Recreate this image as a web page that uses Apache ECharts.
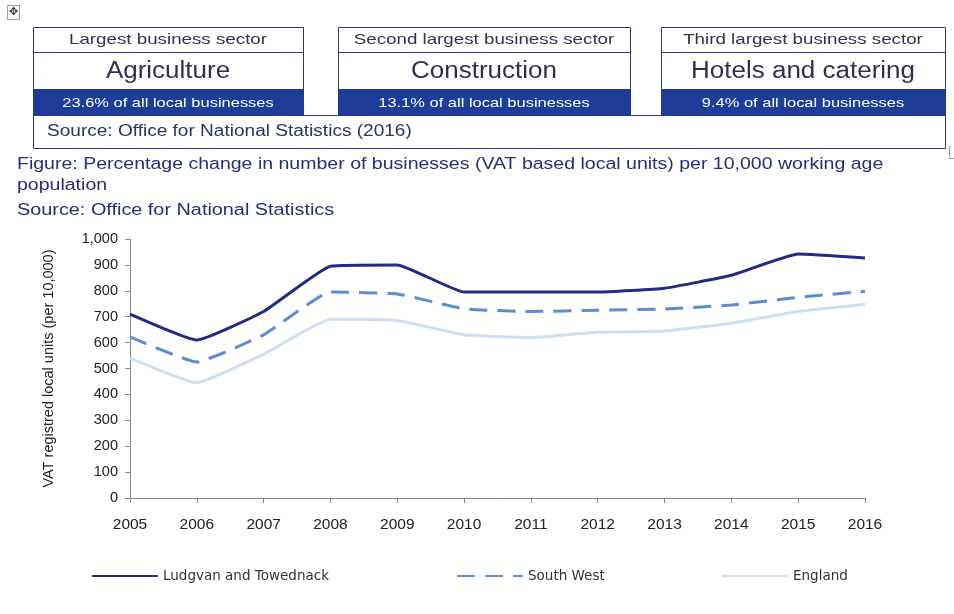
<!DOCTYPE html>
<html>
<head>
<meta charset="utf-8">
<script src="https://cdn.jsdelivr.net/npm/echarts@6/dist/echarts.min.js"></script>
<style>
  html, body { margin: 0; padding: 0; background: #fff; }
  #chart { width: 954px; height: 614px; }
</style>
</head>
<body>
<div id="chart"></div>
<script>
// Years on the category axis
const years = ['2005','2006','2007','2008','2009','2010','2011','2012','2013','2014','2015','2016'];

// VAT registered local units per 10,000 working age population
const ludgvan   = [710, 610, 720, 895, 900, 795, 795, 795, 810, 860, 942, 927];
const southWest = [622, 525, 630, 795, 788, 730, 720, 725, 730, 745, 775, 798];
const england   = [540, 445, 555, 690, 685, 630, 620, 640, 645, 675, 720, 748];

const seriesNames = ['Ludgvan and Towednack', 'South West', 'England'];

// Summary panels above the chart
const sectorTitles = ['Largest business sector', 'Second largest business sector', 'Third largest business sector'];
const sectorNames  = ['Agriculture', 'Construction', 'Hotels and catering'];
const sectorShares = ['23.6% of all local businesses', '13.1% of all local businesses', '9.4% of all local businesses'];

const navy = '#1f2d86';
const band = '#1d3d98';
const border = '#2b3a7e';
const sans = '"Liberation Sans", Arial, sans-serif';
const wide = '"DejaVu Sans", "Liberation Sans", sans-serif';

const panelX = [[33, 303], [338, 630], [661, 945]];
const graphics = [];

// helper: horizontally widened text label
function label(text, x, y, size, color, sx, align) {
  return {
    type: 'text', x: x, y: y, scaleX: sx,
    style: { text: text, x: 0, y: 0, align: align || 'left', verticalAlign: 'middle', fontSize: size, fill: color, fontFamily: sans }
  };
}

// move-handle glyph in the corner
graphics.push({ type: 'rect', shape: { x: 7.5, y: 5.5, width: 12, height: 14 }, style: { fill: '#f6f6f6', stroke: '#a0a0a0', lineWidth: 1 } });
graphics.push({ type: 'text', style: { text: '✥', x: 13.5, y: 12.5, align: 'center', verticalAlign: 'middle', fontSize: 11, fill: '#333', fontFamily: 'DejaVu Sans' } });

panelX.forEach((p, i) => {
  const [x0, x1] = p;
  const w = x1 - x0;
  const cx = (x0 + x1) / 2;
  graphics.push({ type: 'rect', shape: { x: x0, y: 89, width: w, height: 26 }, style: { fill: band } });
  graphics.push({ type: 'rect', shape: { x: x0 + 0.5, y: 27.5, width: w, height: 88 }, style: { fill: 'none', stroke: border, lineWidth: 1 } });
  graphics.push({ type: 'line', shape: { x1: x0, y1: 52.5, x2: x1, y2: 52.5 }, style: { stroke: border, lineWidth: 1 } });
  graphics.push(label(sectorTitles[i], cx, 40, 15, '#2f3550', 1.25, 'center'));
  graphics.push(label(sectorNames[i], cx, 72, 23, '#2a3352', 1.13, 'center'));
  graphics.push(label(sectorShares[i], cx, 103, 13.5, '#ffffff', 1.22, 'center'));
});

// source strip spanning all panels
graphics.push({ type: 'rect', shape: { x: 33.5, y: 115.5, width: 912, height: 33 }, style: { fill: 'none', stroke: border, lineWidth: 1 } });
graphics.push(label('Source: Office for National Statistics (2016)', 47, 132, 16, '#283468', 1.19));

// corner mark at the right edge
graphics.push({ type: 'polyline', shape: { points: [[949.5, 146], [949.5, 158.5], [954, 158.5]] }, style: { stroke: '#9a9a9a', lineWidth: 1, fill: 'none' } });

// figure caption
const captionColor = '#22307a';
graphics.push(label('Figure: Percentage change in number of businesses (VAT based local units) per 10,000 working age', 17, 165, 16, captionColor, 1.22));
graphics.push(label('population', 17, 186, 16, captionColor, 1.22));
graphics.push(label('Source: Office for National Statistics', 17, 211, 16, captionColor, 1.24));

const chart = echarts.init(document.getElementById('chart'), null, { renderer: 'canvas' });

const legendBase = {
  top: 569,
  padding: 0,
  itemWidth: 66,
  itemHeight: 14,
  itemGap: 4,
  itemStyle: { opacity: 0 },
  textStyle: { fontSize: 13.5, color: '#333', fontFamily: wide },
  selectedMode: false
};

chart.setOption({
  animation: false,
  backgroundColor: '#ffffff',
  graphic: graphics,
  grid: { left: 130, right: 89, top: 239, bottom: 116, containLabel: false },
  legend: [
    Object.assign({ left: 91, data: [seriesNames[0]], lineStyle: { width: 2 } }, legendBase),
    Object.assign({ left: 456, data: [seriesNames[1]], lineStyle: { width: 2 } }, legendBase),
    Object.assign({ left: 721, data: [seriesNames[2]], lineStyle: { width: 2 } }, legendBase)
  ],
  xAxis: {
    type: 'category',
    data: years,
    boundaryGap: false,
    axisLine: { lineStyle: { color: '#8a8a8a', width: 1 } },
    axisTick: { show: true, alignWithLabel: true, length: 5, lineStyle: { color: '#8a8a8a' } },
    axisLabel: { color: '#222', fontSize: 15.5, fontFamily: sans, margin: 19 },
    splitLine: { show: false }
  },
  yAxis: {
    type: 'value',
    min: 0,
    max: 1000,
    interval: 100,
    name: 'VAT registred local units (per 10,000)',
    nameLocation: 'middle',
    nameRotate: 90,
    nameGap: 74,
    nameTextStyle: { color: '#222', fontSize: 14.5, fontFamily: sans },
    axisLine: { show: true, lineStyle: { color: '#8a8a8a', width: 1 } },
    axisTick: { show: true, length: 5, lineStyle: { color: '#8a8a8a' } },
    axisLabel: {
      color: '#222', fontSize: 14.5, fontFamily: sans, margin: 12,
      formatter: v => v.toLocaleString('en-GB')
    },
    splitLine: { show: false }
  },
  series: [
    {
      name: seriesNames[0], type: 'line', data: ludgvan, symbol: 'none', smooth: 0.12,
      lineStyle: { color: navy, width: 3 }, itemStyle: { color: navy }, z: 4
    },
    {
      name: seriesNames[1], type: 'line', data: southWest, symbol: 'none', smooth: 0.12,
      lineStyle: { color: '#5b8fd2', width: 3, type: [18, 10] }, itemStyle: { color: '#5b8fd2' }, z: 3
    },
    {
      name: seriesNames[2], type: 'line', data: england, symbol: 'none', smooth: 0.12,
      lineStyle: { color: '#cddff3', width: 3 }, itemStyle: { color: '#cddff3' }, z: 2
    }
  ]
});
</script>
</body>
</html>
